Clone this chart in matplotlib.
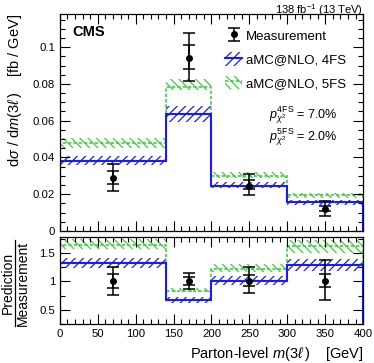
import numpy as np
import matplotlib
matplotlib.use("Agg")
import matplotlib.pyplot as plt
from matplotlib.patches import Patch
from matplotlib.lines import Line2D
from matplotlib.ticker import MultipleLocator

plt.rcParams['font.family'] = ['Liberation Sans', 'DejaVu Sans']
plt.rcParams['mathtext.fontset'] = 'custom'
plt.rcParams['mathtext.rm'] = 'Liberation Sans'
plt.rcParams['mathtext.it'] = 'Liberation Sans:italic'
plt.rcParams['mathtext.bf'] = 'Liberation Sans:bold'
plt.rcParams['hatch.linewidth'] = 0.9

# binning and data
edges = np.array([0, 140, 200, 300, 400])
centers = np.array([70, 170, 250, 350])

meas = np.array([0.029, 0.094, 0.0246, 0.012])
meas_tot_up = np.array([0.0074, 0.014, 0.0062, 0.0045])
meas_tot_dn = np.array([0.0071, 0.0125, 0.0052, 0.0039])
meas_stat_up = np.array([0.0037, 0.007, 0.0029, 0.0015])
meas_stat_dn = np.array([0.0033, 0.006, 0.0018, 0.0011])

pred_4fs = np.array([0.0382, 0.0634, 0.0246, 0.0155])
pred_4fs_up = np.array([0.0026, 0.0047, 0.0022, 0.0013])
pred_4fs_dn = np.array([0.0023, 0.0042, 0.0014, 0.0013])

pred_5fs = np.array([0.0477, 0.0784, 0.0301, 0.0195])
pred_5fs_up = np.array([0.0030, 0.0042, 0.0021, 0.0012])
pred_5fs_dn = np.array([0.0024, 0.0018, 0.0015, 0.0014])

blue = '#1a1aff'
green = '#3fcf3f'
hatch4 = '////'
hatch5 = '\\\\\\\\'
dash5 = (0, (2, 1.2))

fig = plt.figure(figsize=(3.74, 3.63), dpi=100)
ax = fig.add_axes([0.160, 0.364, 0.811, 0.597])
rx = fig.add_axes([0.160, 0.107, 0.811, 0.240])


def draw_band(a, vals, up, dn, color, hatch):
    a.bar(edges[:-1], up + dn, bottom=vals - dn, width=np.diff(edges), align='edge',
          fill=False, hatch=hatch, edgecolor=color, linewidth=0)


def style_axis(a):
    a.tick_params(which='both', direction='in', top=True, right=True, labelsize=8.2)
    a.tick_params(which='major', length=7, width=0.8)
    a.tick_params(which='minor', length=3.5, width=0.8)
    a.xaxis.set_major_locator(MultipleLocator(50))
    a.xaxis.set_minor_locator(MultipleLocator(10))
    a.set_xlim(0, 400)
    for s in a.spines.values():
        s.set_linewidth(0.9)


# main panel
draw_band(ax, pred_5fs, pred_5fs_up, pred_5fs_dn, green, hatch5)
draw_band(ax, pred_4fs, pred_4fs_up, pred_4fs_dn, blue, hatch4)
ax.stairs(pred_5fs, edges, color=green, lw=1.2, linestyle=dash5)
ax.stairs(pred_4fs, edges, color=blue, lw=1.5)
ax.errorbar(centers, meas, yerr=[meas_stat_dn, meas_stat_up], fmt='none',
            ecolor='black', elinewidth=1.1, capsize=4, capthick=1.1)
meas_h = ax.errorbar(centers, meas, yerr=[meas_tot_dn, meas_tot_up], fmt='o', color='black',
                     ms=4, elinewidth=1.1, capsize=4, capthick=1.1)

style_axis(ax)
ax.set_ylim(0, 0.118)
ax.yaxis.set_minor_locator(MultipleLocator(0.005))
ax.set_yticks([0, 0.02, 0.04, 0.06, 0.08, 0.1], ['0', '0.02', '0.04', '0.06', '0.08', '0.1'])
ax.tick_params(labelbottom=False)
ax.set_ylabel(r'd$\sigma$ / d$m$(3$\ell\,$)    [fb / GeV]', fontsize=10.5, loc='top', labelpad=6)

ax.text(0.04, 0.95, 'CMS', transform=ax.transAxes, fontsize=10.5, fontweight='bold', va='top')
fig.text(0.971, 0.962, r'138 fb$^{-1}$ (13 TeV)', fontsize=8, ha='right', va='baseline')
ax.text(0.69, 0.535, r'$p^{\rm 4FS}_{\chi^2}$ = 7.0%', transform=ax.transAxes, fontsize=9,
        va='center')
ax.text(0.69, 0.43, r'$p^{\rm 5FS}_{\chi^2}$ = 2.0%', transform=ax.transAxes, fontsize=9,
        va='center')

h4 = (Patch(fill=False, hatch=hatch4, edgecolor=blue, linewidth=0), Line2D([], [], color=blue, lw=1.5))
h5 = (Patch(fill=False, hatch=hatch5, edgecolor=green, linewidth=0),
      Line2D([], [], color=green, lw=1.2, linestyle=dash5))
ax.legend([meas_h, h4, h5], ['Measurement', 'aMC@NLO, 4FS', 'aMC@NLO, 5FS'],
          loc='upper right', bbox_to_anchor=(0.975, 0.975), frameon=False, fontsize=9.5,
          handlelength=1.3, handleheight=1.2, handletextpad=0.3, labelspacing=0.7,
          borderaxespad=0.3)

# ratio panel
r4 = pred_4fs / meas
r5 = pred_5fs / meas
draw_band(rx, r5, pred_5fs_up / meas, pred_5fs_dn / meas, green, hatch5)
draw_band(rx, r4, pred_4fs_up / meas, pred_4fs_dn / meas, blue, hatch4)
rx.stairs(r5, edges, color=green, lw=1.2, linestyle=dash5)
rx.stairs(r4, edges, color=blue, lw=1.5)
ones = np.ones_like(meas)
rx.errorbar(centers, ones, yerr=[meas_stat_dn / meas, meas_stat_up / meas], fmt='none',
            ecolor='black', elinewidth=1.1, capsize=4, capthick=1.1)
rx.errorbar(centers, ones, yerr=[meas_tot_dn / meas, meas_tot_up / meas], fmt='o', color='black',
            ms=4, elinewidth=1.1, capsize=4, capthick=1.1)

style_axis(rx)
rx.set_ylim(0.25, 1.78)
rx.yaxis.set_minor_locator(MultipleLocator(0.25))
rx.set_yticks([0.5, 1, 1.5], ['0.5', '1', '1.5'])
rx.set_xlabel(r'Parton-level $m$(3$\ell\,$)    [GeV]', fontsize=10.5, loc='right')

# stacked ratio label: Prediction over Measurement
yc = 0.22
fig.text(0.020, yc, 'Prediction', rotation=90, fontsize=10, ha='center', va='center')
fig.text(0.060, yc, 'Measurement', rotation=90, fontsize=10, ha='center', va='center')
fig.add_artist(Line2D([0.040, 0.040], [yc - 0.119, yc + 0.119], color='black', lw=0.9,
                      transform=fig.transFigure))

fig.savefig('out.png', dpi=100)
